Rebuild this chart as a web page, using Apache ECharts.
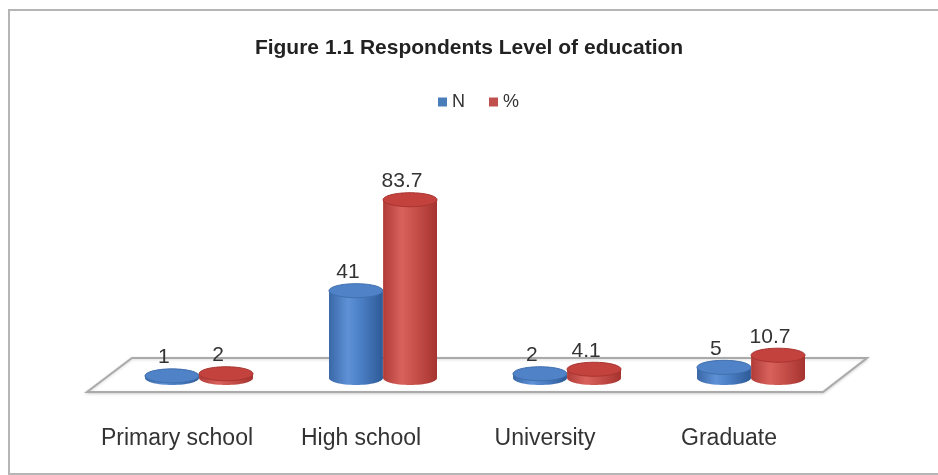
<!DOCTYPE html>
<html>
<head>
<meta charset="utf-8">
<script src="https://cdn.jsdelivr.net/npm/echarts@6/dist/echarts.min.js"></script>
<style>html,body{margin:0;padding:0;background:#fff}#chart{width:938px;height:475px}</style>
</head>
<body>
<div id="chart"></div>
<script>
const categories = ['Primary school', 'High school', 'University', 'Graduate'];
const seriesNames = ['N', '%'];
const valuesN = [1, 41, 2, 5];
const valuesPct = [2, 83.7, 4.1, 10.7];

const FONT = "'Liberation Sans', sans-serif";

function makeRender(offsetFrac, pal) {
  return function (params, api) {
    const idx = api.value(0), val = api.value(1);
    const top = api.coord([idx, val]);
    const base = api.coord([idx, 0]);
    const band = api.size([1, 0])[0];
    const w = band * 0.293;
    const rx = w / 2, ry = 7;
    const cx = top[0] + band * offsetFrac;
    const grad = new echarts.graphic.LinearGradient(0, 0, 1, 0, [
      { offset: 0, color: pal.edge },
      { offset: 0.35, color: pal.light },
      { offset: 0.6, color: pal.mid },
      { offset: 1, color: pal.dark }
    ]);
    return {
      type: 'group',
      children: [
        { type: 'ellipse', shape: { cx: cx, cy: base[1], rx: rx, ry: ry }, style: { fill: grad } },
        { type: 'rect', shape: { x: cx - rx, y: top[1], width: w, height: Math.max(0, base[1] - top[1]) }, style: { fill: grad } },
        { type: 'ellipse', shape: { cx: cx, cy: top[1], rx: rx, ry: ry }, style: { fill: pal.top, stroke: pal.rim, lineWidth: 1 } },
        { type: 'text', style: { text: String(val), x: cx - 8, y: top[1] - ry - 1, align: 'center', verticalAlign: 'bottom', fill: '#333', font: '21px ' + FONT } }
      ]
    };
  };
}

const blue = { edge: '#3a68a8', light: '#5e91d6', mid: '#4a7ec4', dark: '#2e5a96', top: '#4f82c6', rim: '#3f6fae' };
const red = { edge: '#b03c38', light: '#d9625d', mid: '#c8504b', dark: '#a5332f', top: '#c4423e', rim: '#a83430' };

const chart = echarts.init(document.getElementById('chart'));
chart.setOption({
  backgroundColor: '#fff',
  animation: false,
  title: {
    text: 'Figure 1.1 Respondents Level of education',
    left: 'center', top: 33,
    textStyle: { fontFamily: FONT, fontWeight: 'bold', fontSize: 21, color: '#222' }
  },
  legend: {
    data: seriesNames, top: 88, left: 433, itemWidth: 9, itemHeight: 9, itemGap: 24,
    icon: 'rect',
    textStyle: { fontFamily: FONT, fontSize: 18, color: '#333' }
  },
  grid: { left: 107, right: 95, top: 165, bottom: 97 },
  xAxis: {
    type: 'category', data: categories,
    axisLine: { show: false }, axisTick: { show: false }, splitLine: { show: false },
    axisLabel: { interval: 0, margin: 49, fontFamily: FONT, fontSize: 23, color: '#333', padding: [0, 44, 0, 0] }
  },
  yAxis: { type: 'value', min: 0, max: 100, show: false, splitLine: { show: false } },
  graphic: [
    { type: 'rect', z: 0, shape: { x: 9, y: 10, width: 940, height: 464 }, style: { fill: 'none', stroke: '#b5b5b5', lineWidth: 2 } },
    { type: 'polygon', z: 0, shape: { points: [[132, 358], [867, 358], [823, 392], [87, 392]] }, style: { fill: '#fff', stroke: '#aaa', lineWidth: 2, shadowColor: 'rgba(0,0,0,0.15)', shadowBlur: 3, shadowOffsetY: 1 } }
  ],
  series: [
    { name: 'N', type: 'custom', z: 5, itemStyle: { color: '#4a7ebb' }, encode: { x: 0, y: 1 },
      renderItem: makeRender(-0.147, blue), data: valuesN.map((v, i) => [i, v]) },
    { name: '%', type: 'custom', z: 5, itemStyle: { color: '#c0504d' }, encode: { x: 0, y: 1 },
      renderItem: makeRender(0.147, red), data: valuesPct.map((v, i) => [i, v]) }
  ]
});
</script>
</body>
</html>
